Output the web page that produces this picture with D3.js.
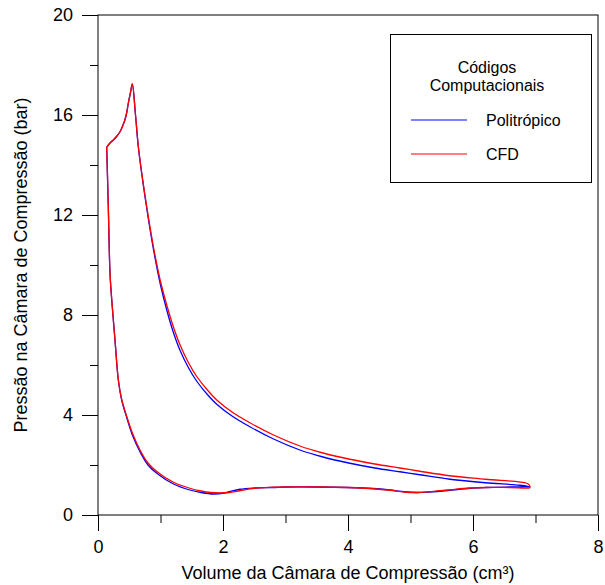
<!DOCTYPE html>
<html>
<head>
<meta charset="utf-8">
<script src="https://cdn.jsdelivr.net/npm/d3@7"></script>
<style>
  body { margin: 0; background: #fff; }
  svg { font-family: Arial, "Liberation Sans", sans-serif; }
</style>
</head>
<body>
<svg></svg>
<script>
const width = 605;
const height = 585;
const margin = { left: 98, right: 7, top: 15, bottom: 70 };

// Politrópico: volume (cm³) and pressure (bar), one closed loop
const poliVol = [0.139, 0.2, 0.245, 0.3, 0.352, 0.4, 0.43, 0.46, 0.485, 0.52, 0.549,
  0.6, 0.645, 0.7, 0.752, 0.82, 0.9, 1.0, 1.1, 1.2, 1.31, 1.45, 1.58, 1.75, 1.9, 2.15, 2.43,
  2.8, 3.23, 3.6, 4.03, 4.43, 4.83, 5.15, 5.63, 6.2, 6.75, 6.91,
  6.6, 6.2, 5.95, 5.6, 5.3, 5.1, 4.9, 4.67, 4.4, 4.0, 3.5, 3.0, 2.8, 2.5, 2.27, 2.1, 2.0,
  1.85, 1.65, 1.47, 1.2, 0.94, 0.8, 0.672, 0.55, 0.459, 0.379, 0.325, 0.272, 0.22, 0.192, 0.165, 0.139];
const poliPres = [14.71, 14.9, 15.0, 15.15, 15.33, 15.6, 15.8, 16.1, 16.47, 16.9, 17.24,
  16.0, 14.73, 13.65, 12.73, 11.62, 10.45, 9.2, 8.2, 7.35, 6.6, 5.88, 5.35, 4.82, 4.43, 3.95, 3.53,
  3.05, 2.6, 2.32, 2.07, 1.88, 1.73, 1.61, 1.43, 1.29, 1.19, 1.13,
  1.12, 1.1, 1.07, 0.98, 0.92, 0.9, 0.93, 1.0, 1.06, 1.1, 1.12, 1.12, 1.1, 1.08, 1.03, 0.93, 0.87,
  0.84, 0.9, 1.0, 1.25, 1.67, 2.0, 2.53, 3.2, 3.9, 4.6, 5.4, 7.0, 8.6, 9.68, 12.33, 14.71];

// CFD
const cfdVol = [0.139, 0.2, 0.245, 0.3, 0.352, 0.4, 0.43, 0.46, 0.485, 0.52, 0.549,
  0.6, 0.645, 0.7, 0.752, 0.82, 0.9, 1.0, 1.1, 1.2, 1.31, 1.45, 1.58, 1.75, 1.9, 2.15, 2.43,
  2.8, 3.23, 3.6, 4.03, 4.43, 4.83, 5.15, 5.63, 6.2, 6.86, 6.9, 6.91,
  6.6, 6.2, 5.95, 5.6, 5.3, 5.1, 4.9, 4.67, 4.4, 4.0, 3.5, 3.0, 2.8, 2.5, 2.27, 2.1, 1.95,
  1.8, 1.65, 1.47, 1.2, 0.94, 0.8, 0.672, 0.55, 0.459, 0.379, 0.325, 0.272, 0.22, 0.192, 0.165, 0.139];
const cfdPres = [14.71, 14.9, 15.0, 15.15, 15.33, 15.6, 15.8, 16.1, 16.47, 16.9, 17.24,
  16.0, 14.75, 13.68, 12.78, 11.7, 10.55, 9.34, 8.4, 7.57, 6.82, 6.08, 5.54, 5.0, 4.6, 4.11, 3.69,
  3.21, 2.76, 2.48, 2.23, 2.04, 1.88, 1.75, 1.57, 1.43, 1.27, 1.2, 1.1,
  1.1, 1.1, 1.08, 1.0, 0.93, 0.9, 0.92, 0.99, 1.05, 1.1, 1.12, 1.12, 1.11, 1.07, 0.97, 0.9, 0.88,
  0.9, 0.96, 1.07, 1.32, 1.74, 2.08, 2.6, 3.28, 3.95, 4.62, 5.42, 7.0, 8.6, 9.68, 12.33, 14.71];

const xMajor = [0, 2, 4, 6, 8];
const xMinor = [1, 3, 5, 7];
const yMajor = [0, 4, 8, 12, 16, 20];
const yMinor = [2, 6, 10, 14, 18];

const legendTitle = ["Códigos", "Computacionais"];
const seriesNames = ["Politrópico", "CFD"];
const seriesColors = ["#0000ff", "#ff0000"];

const svg = d3.select("svg")
    .attr("width", width)
    .attr("height", height);

const x = d3.scaleLinear().domain([0, 8]).range([margin.left, width - margin.right]);
const y = d3.scaleLinear().domain([0, 20]).range([height - margin.bottom, margin.top]);

// frame
svg.append("rect")
    .attr("x", x(0)).attr("y", y(20))
    .attr("width", x(8) - x(0)).attr("height", y(0) - y(20))
    .attr("fill", "none").attr("stroke", "#000").attr("stroke-width", 1);

svg.append("g")
    .attr("transform", `translate(0, ${y(0)})`)
    .call(d3.axisBottom(x).tickValues(xMajor).tickSize(16).tickSizeOuter(0).tickPadding(9));
svg.append("g")
    .attr("transform", `translate(0, ${y(0)})`)
    .call(d3.axisBottom(x).tickValues(xMinor).tickSize(8).tickSizeOuter(0).tickFormat(""));

svg.append("g")
    .attr("transform", `translate(${x(0)}, 0)`)
    .call(d3.axisLeft(y).tickValues(yMajor).tickSize(16).tickSizeOuter(0).tickPadding(9));
svg.append("g")
    .attr("transform", `translate(${x(0)}, 0)`)
    .call(d3.axisLeft(y).tickValues(yMinor).tickSize(8).tickSizeOuter(0).tickFormat(""));

svg.selectAll(".domain").remove();
svg.selectAll(".tick line").attr("stroke", "#000");
svg.selectAll(".tick text")
    .attr("font-size", 18)
    .attr("font-family", "Arial, 'Liberation Sans', sans-serif")
    .attr("fill", "#000");

svg.append("text")
    .attr("x", (x(0) + x(8)) / 2)
    .attr("y", 579)
    .attr("text-anchor", "middle")
    .attr("font-size", 18)
    .text("Volume da Câmara de Compressão (cm³)");

svg.append("text")
    .attr("transform", `translate(27, ${(y(0) + y(20)) / 2}) rotate(-90)`)
    .attr("text-anchor", "middle")
    .attr("font-size", 18)
    .text("Pressão na Câmara de Compressão (bar)");

const line = d3.line()
    .x(d => x(d[0]))
    .y(d => y(d[1]))
    .curve(d3.curveCatmullRom.alpha(0.5));

const series = [
    d3.zip(poliVol, poliPres),
    d3.zip(cfdVol, cfdPres)
];

svg.selectAll(".series")
    .data(series)
    .enter()
    .append("path")
    .attr("class", "series")
    .attr("d", d => line(d))
    .attr("fill", "none")
    .attr("stroke", (d, i) => seriesColors[i])
    .attr("stroke-width", 1.3);

// legend
const legend = svg.append("g");
legend.append("rect")
    .attr("x", 390.5).attr("y", 34.5)
    .attr("width", 201).attr("height", 148)
    .attr("fill", "#fff").attr("stroke", "#000");

legend.selectAll(".ltitle")
    .data(legendTitle)
    .enter()
    .append("text")
    .attr("x", 487)
    .attr("y", (d, i) => 67 + i * 18)
    .attr("dy", "0.35em")
    .attr("text-anchor", "middle")
    .attr("font-size", 16)
    .text(d => d);

legend.selectAll(".lline")
    .data(seriesNames)
    .enter()
    .append("line")
    .attr("x1", 411).attr("x2", 467)
    .attr("y1", (d, i) => 120 + i * 34)
    .attr("y2", (d, i) => 120 + i * 34)
    .attr("stroke", (d, i) => seriesColors[i])
    .attr("stroke-width", 1);

legend.selectAll(".llabel")
    .data(seriesNames)
    .enter()
    .append("text")
    .attr("x", 486)
    .attr("y", (d, i) => 120 + i * 34)
    .attr("dy", "0.35em")
    .attr("font-size", 16)
    .text(d => d);
</script>
</body>
</html>
